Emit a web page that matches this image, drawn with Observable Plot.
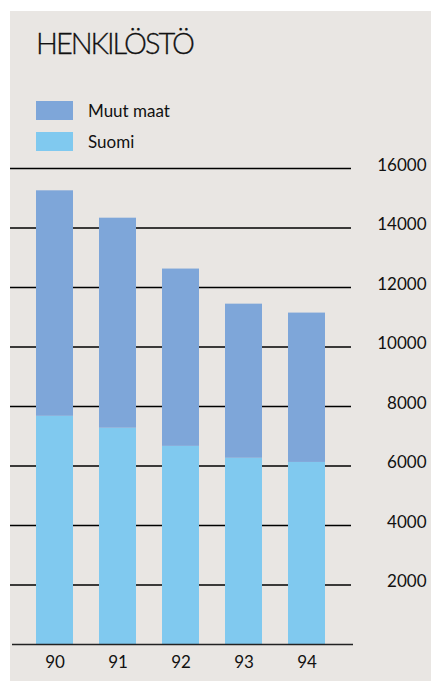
<!DOCTYPE html>
<html>
<head>
<meta charset="utf-8">
<script src="https://cdn.jsdelivr.net/npm/d3@7"></script>
<script src="https://cdn.jsdelivr.net/npm/@observablehq/plot@0.6"></script>
<style>
  html, body { margin: 0; padding: 0; background: #ffffff; }
  body { width: 431px; height: 681px; position: relative; overflow: hidden; font-family: Lato, "Open Sans", sans-serif; color: #111; }
  #panel { position: absolute; left: 10px; top: 11px; width: 421px; height: 670px; background: #e9e6e3; }
  #title { position: absolute; left: 26px; top: 17px; font-size: 29px; font-weight: 300; letter-spacing: -2px; line-height: 1; white-space: nowrap; -webkit-text-stroke: 0.3px #111; }
  .leg { position: absolute; left: 26px; height: 19px; display: flex; align-items: center; font-size: 17px; white-space: nowrap; }
  .sw { width: 37px; height: 19px; margin-right: 15px; }
  #chart { position: absolute; left: 0; top: 139px; }
</style>
</head>
<body>
<div id="panel">
  <div id="title">HENKILÖSTÖ</div>
  <div class="leg" style="top:90px"><div class="sw" id="sw1"></div><span>Muut maat</span></div>
  <div class="leg" style="top:121px"><div class="sw" id="sw2"></div><span>Suomi</span></div>
  <div id="chart"></div>
</div>
<script>
const years = ["90", "91", "92", "93", "94"];
const suomi = [7670, 7270, 6660, 6260, 6120];
const muutMaat = [7580, 7060, 5960, 5180, 5020];
const seriesNames = ["Suomi", "Muut maat"];
const seriesColors = ["#80c9ef", "#7ea6d9"];
const yTicks = [2000, 4000, 6000, 8000, 10000, 12000, 14000, 16000];

document.getElementById("sw1").style.background = seriesColors[1];
document.getElementById("sw2").style.background = seriesColors[0];

const rows = [];
years.forEach((y, i) => {
  rows.push({year: y, series: "Suomi", value: suomi[i]});
  rows.push({year: y, series: "Muut maat", value: muutMaat[i]});
});

const chart = Plot.plot({
  width: 421,
  height: 530,
  marginLeft: 0,
  marginRight: 80,
  marginTop: 18,
  marginBottom: 36,
  style: {background: "transparent", fontFamily: "Lato, 'Open Sans', sans-serif", fontSize: "17px", color: "#111"},
  x: {domain: years, padding: 0.41, axis: null, label: null},
  y: {domain: [0, 16000], axis: null},
  color: {domain: seriesNames, range: seriesColors},
  marks: [
    Plot.ruleY(yTicks, {stroke: "#000", strokeWidth: 1.3}),
    Plot.barY(rows, {x: "year", y: "value", fill: "series"}),
    Plot.ruleY([0], {stroke: "#222", strokeWidth: 1.6, dx: 2}),
    Plot.text(yTicks, {y: d => d, text: d => String(d), frameAnchor: "right", textAnchor: "end", dx: 75, dy: -3, fill: "#111", fontSize: 17}),
    Plot.axisX({tickSize: 0, tickPadding: 11, fontSize: 17, fill: "#111", label: null})
  ]
});
document.getElementById("chart").appendChild(chart);
</script>
</body>
</html>
